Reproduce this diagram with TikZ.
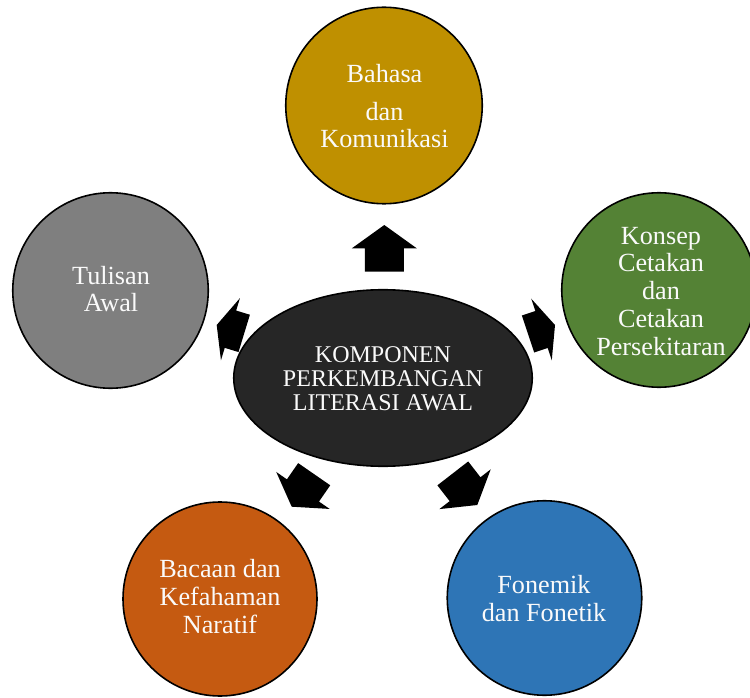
\documentclass[tikz,border=0pt]{standalone}
\usepackage{fontspec}
\setmainfont{Liberation Serif}
\usetikzlibrary{calc,shapes.geometric}
\definecolor{cgold}{HTML}{BF9000}
\definecolor{cgreen}{HTML}{548235}
\definecolor{cgray}{HTML}{7F7F7F}
\definecolor{corange}{HTML}{C55A11}
\definecolor{cblue}{HTML}{2E75B6}
\definecolor{ccenter}{HTML}{262626}
\definecolor{ctxt}{HTML}{FAFAFA}
\tikzset{
  bubble/.style={circle, draw=black, line width=1.6pt, inner sep=0pt},
  hub/.style={ellipse, draw=black, line width=1.6pt, inner sep=0pt, fill=ccenter},
  btext/.style={text=ctxt, align=center, anchor=base, inner sep=0pt, font=\fontsize{26.2}{27.7}\selectfont},
  ctext/.style={text=ctxt, align=center, anchor=base, inner sep=0pt, font=\fontsize{24}{24}\selectfont},
  arrowfill/.style={fill=black, draw=none},
}
\newcommand{\blockarr}[1]{%
  \coordinate (#1-m) at ($(#1-b)!0.5!(#1-t)$);
  \fill[arrowfill] ($(#1-b)!19.5pt!90:(#1-t)$) -- ($(#1-m)!19.5pt!90:(#1-t)$)
    -- ($(#1-m)!32.5pt!90:(#1-t)$) -- (#1-t) -- ($(#1-m)!32.5pt!-90:(#1-t)$)
    -- ($(#1-m)!19.5pt!-90:(#1-t)$) -- ($(#1-b)!19.5pt!-90:(#1-t)$) -- cycle;
}
\begin{document}
\begin{tikzpicture}[x=1pt,y=-1pt]
\fill[white] (0,0) rectangle (750,698);
\useasboundingbox (0,0) rectangle (750,698);

% hub
\node[hub, minimum width=298.5pt, minimum height=176.5pt] (hub) at (383,378) {};
\node[ctext] (hubtext) at (383,410) {KOMPONEN\\PERKEMBANGAN\\LITERASI AWAL};

% circles (text anchored at the baseline of the last line)
\node[bubble, fill=cgold, minimum size=196.5pt] (top) at (384,105.5) {};
\node[btext] (toptext) at (384.5,148) {Bahasa\\[10.3pt]dan\\Komunikasi};

\node[bubble, fill=cgreen, minimum size=194.5pt] (right) at (659,290) {};
\node[btext] (righttext) at (661,355) {Konsep\\Cetakan\\dan\\Cetakan\\Persekitaran};

\node[bubble, fill=cgray, minimum size=195.5pt] (left) at (110.5,290.5) {};
\node[btext] (lefttext) at (111,311.7) {Tulisan\\Awal};

\node[bubble, fill=corange, minimum size=194pt] (bl) at (220,599) {};
\node[btext] (bltext) at (220,633) {Bacaan dan\\Kefahaman\\Naratif};

\node[bubble, fill=cblue, minimum size=194.5pt] (br) at (544.5,598) {};
\node[btext] (brtext) at (544,621) {Fonemik\\dan Fonetik};

% block arrows (back, tip)
\coordinate (aT-b) at (384.3,271.7); \coordinate (aT-t) at (384.3,225);
\coordinate (aL-b) at (244.2,333.4); \coordinate (aL-t) at (216.7,325);
\coordinate (aR-b) at (528,334);     \coordinate (aR-t) at (555,325);
\coordinate (aBL-b) at (314.2,474.2); \coordinate (aBL-t) at (291.7,506.7);
\coordinate (aBR-b) at (452.8,473.4); \coordinate (aBR-t) at (477.3,505);
\blockarr{aT}
\blockarr{aL}
\blockarr{aR}
\blockarr{aBL}
\blockarr{aBR}
\end{tikzpicture}
\end{document}
